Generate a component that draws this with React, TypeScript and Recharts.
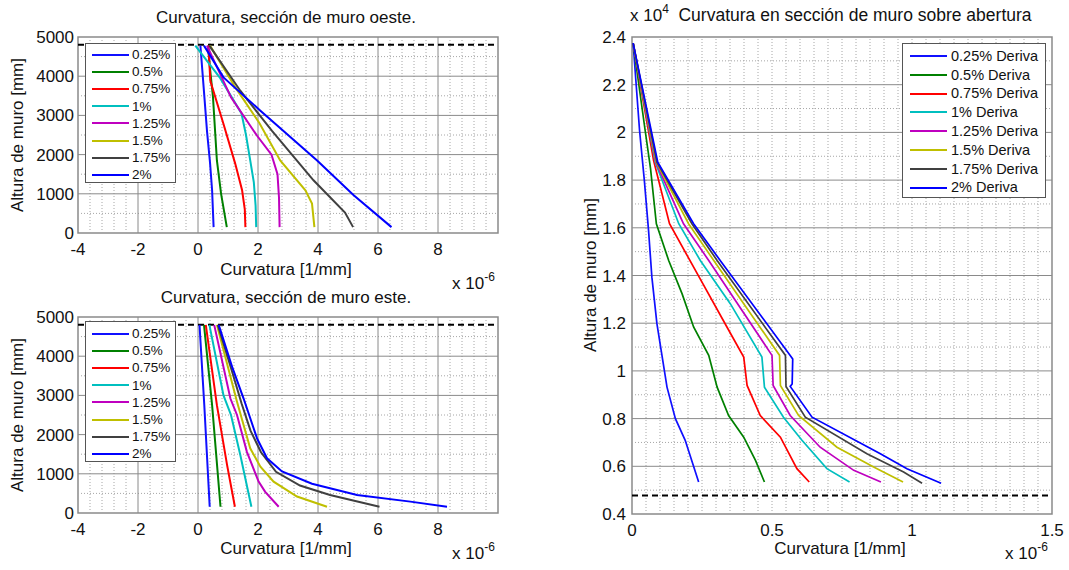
import React from 'react';
import { LineChart, Line, XAxis, YAxis, ReferenceLine, ReferenceArea } from 'recharts';

const FONT = '"Liberation Sans", Arial, Helvetica, sans-serif';

type Pt = [number, number];

// ---------- labels / colours ----------
const driftLabels = ['0.25%', '0.5%', '0.75%', '1%', '1.25%', '1.5%', '1.75%', '2%'];
const driftLabelsRight = driftLabels.map((d) => `${d} Deriva`);
const seriesColors = ['#1010FF', '#008000', '#FF0000', '#00BFBF', '#BF00BF', '#BFBF00', '#404040', '#0000FF'];

// ---------- ticks ----------
const leftXTicks = [-4, -2, 0, 2, 4, 6, 8];
const leftYTicks = [0, 1000, 2000, 3000, 4000, 5000];
const rightXTicks = [0, 0.5, 1, 1.5];
const rightYTicks = [0.4, 0.6, 0.8, 1, 1.2, 1.4, 1.6, 1.8, 2, 2.2, 2.4];

// ---------- West wall section: [curvature (x1e-6 1/mm), height (mm)] ----------
const oeste025: Pt[] = [[0.08, 4780], [0.2, 3600], [0.3, 2600], [0.4, 1800], [0.47, 1090], [0.52, 150]];
const oeste050: Pt[] = [[0.33, 4780], [0.4, 4200], [0.5, 3460], [0.63, 1850], [0.77, 1000], [0.96, 150]];
const oeste075: Pt[] = [[0.35, 4780], [0.41, 3880], [0.85, 2780], [1.24, 1770], [1.47, 1090], [1.56, 600], [1.58, 150]];
const oeste100: Pt[] = [[-0.09, 4780], [0.74, 3950], [1.45, 3050], [1.6, 2500], [1.72, 1950], [1.86, 1300], [1.92, 700], [1.94, 150]];
const oeste125: Pt[] = [[0.3, 4780], [1.1, 3460], [1.97, 2480], [2.45, 2000], [2.65, 1500], [2.7, 900], [2.72, 150]];
const oeste150: Pt[] = [[0.4, 4780], [1.24, 3720], [2.05, 2800], [2.74, 1850], [3.58, 1090], [3.8, 750], [3.88, 150]];
const oeste175: Pt[] = [[0.38, 4780], [1.41, 3630], [2.46, 2610], [3.85, 1345], [4.9, 520], [5.17, 150]];
const oeste200: Pt[] = [[0.2, 4780], [0.85, 3970], [2.08, 3120], [3.97, 1850], [5.19, 964], [6.45, 150]];

// ---------- East wall section ----------
const este025: Pt[] = [[0.05, 4800], [0.21, 2750], [0.39, 160]];
const este050: Pt[] = [[0.2, 4800], [0.47, 2750], [0.75, 160]];
const este075: Pt[] = [[0.26, 4800], [0.63, 2750], [0.97, 1220], [1.23, 160]];
const este100: Pt[] = [[0.38, 4800], [0.85, 3000], [1.1, 2500], [1.41, 1480], [1.78, 160]];
const este125: Pt[] = [[0.54, 4800], [1.08, 2920], [1.3, 2500], [1.63, 1560], [2.02, 800], [2.24, 540], [2.69, 160]];
const este150: Pt[] = [[0.63, 4800], [1.3, 2840], [1.74, 1650], [2.08, 1180], [2.52, 800], [3.3, 420], [4.3, 160]];
const este175: Pt[] = [[0.66, 4800], [1.1, 3700], [1.45, 2800], [1.75, 2100], [2.1, 1550], [2.6, 1050], [3.4, 700], [4.4, 460], [6.05, 160]];
const este200: Pt[] = [[0.69, 4800], [1.15, 3700], [1.52, 2920], [1.97, 1900], [2.3, 1395], [2.8, 1060], [3.8, 745], [5.3, 459], [7.08, 290], [8.3, 160]];

// ---------- Wall above opening: [curvature (x1e-6 1/mm), height (x1e4 mm)] ----------
const abert025: Pt[] = [[0.004, 2.374], [0.027, 2.008], [0.044, 1.8], [0.059, 1.59], [0.071, 1.393], [0.089, 1.198], [0.107, 1.065], [0.125, 0.932], [0.155, 0.8], [0.19, 0.709], [0.238, 0.534]];
const abert050: Pt[] = [[0.004, 2.374], [0.047, 2.008], [0.066, 1.85], [0.087, 1.617], [0.131, 1.463], [0.179, 1.323], [0.22, 1.184], [0.274, 1.065], [0.304, 0.932], [0.345, 0.813], [0.399, 0.722], [0.441, 0.625], [0.473, 0.534]];
const abert075: Pt[] = [[0.004, 2.374], [0.077, 1.883], [0.134, 1.617], [0.24, 1.393], [0.339, 1.184], [0.399, 1.058], [0.411, 0.939], [0.458, 0.813], [0.53, 0.722], [0.589, 0.59], [0.633, 0.534]];
const abert100: Pt[] = [[0.004, 2.374], [0.083, 1.875], [0.167, 1.617], [0.244, 1.463], [0.351, 1.282], [0.464, 1.058], [0.473, 0.932], [0.541, 0.806], [0.607, 0.709], [0.696, 0.59], [0.777, 0.534]];
const abert125: Pt[] = [[0.004, 2.374], [0.085, 1.875], [0.184, 1.617], [0.274, 1.463], [0.5, 1.065], [0.504, 0.939], [0.565, 0.813], [0.672, 0.68], [0.792, 0.583], [0.889, 0.534]];
const abert150: Pt[] = [[0.004, 2.374], [0.087, 1.875], [0.202, 1.617], [0.292, 1.463], [0.527, 1.065], [0.53, 0.939], [0.595, 0.813], [0.732, 0.68], [0.863, 0.597], [0.968, 0.534]];
const abert175: Pt[] = [[0.004, 2.374], [0.089, 1.875], [0.214, 1.617], [0.304, 1.463], [0.548, 1.065], [0.55, 0.935], [0.619, 0.806], [0.839, 0.653], [0.97, 0.576], [1.036, 0.529]];
const abert200: Pt[] = [[0.004, 2.374], [0.092, 1.875], [0.22, 1.617], [0.315, 1.463], [0.565, 1.065], [0.574, 1.05], [0.572, 0.945], [0.565, 0.935], [0.643, 0.806], [0.887, 0.653], [0.982, 0.59], [1.104, 0.529]];

const oesteSeries = [oeste025, oeste050, oeste075, oeste100, oeste125, oeste150, oeste175, oeste200];
const esteSeries = [este025, este050, este075, este100, este125, este150, este175, este200];
const abertSeries = [abert025, abert050, abert075, abert100, abert125, abert150, abert175, abert200];

// reference (dashed) level
const leftDashLevel = 4800;
const rightDashLevel = 0.478;

// ---------- grid positions ----------
const leftXMajor = [-2, 0, 2, 4, 6, 8];
const leftXMinor = Array.from({ length: 34 }, (_, i) => i + 1).filter((i) => i % 5 !== 0).map((i) => +(-4 + 0.4 * i).toFixed(2));
const leftYMajor = [1000, 2000, 3000, 4000];
const leftYMinor = [500, 1500, 2500, 3500, 4500];
const rightXMajor: number[] = [];
const rightXMinor = Array.from({ length: 29 }, (_, i) => +(0.05 * (i + 1)).toFixed(2));
const rightYMajor = [0.6, 0.8, 1, 1.2, 1.4, 1.6, 1.8, 2, 2.2];
const rightYMinor = [0.5, 0.7, 0.9, 1.1, 1.3, 1.5, 1.7, 1.9, 2.1, 2.3];

const toRows = (pts: Pt[]) => pts.map(([x, y]) => ({ x, y }));

type PanelProps = {
  width: number;
  height: number;
  margin: { top: number; right: number; bottom: number; left: number };
  yWidth: number;
  xDomain: [number, number];
  yDomain: [number, number];
  xTicks: number[];
  yTicks: number[];
  xMajor: number[];
  xMinor: number[];
  yMajor: number[];
  yMinor: number[];
  dashY: number;
  series: Pt[][];
  strokeWidth: number;
  yTickMargin: number;
};

function Panel(p: PanelProps) {
  const tickStyle = { fill: '#111', fontSize: 17, fontFamily: FONT };
  return (
    <LineChart width={p.width} height={p.height} margin={p.margin}>
      <XAxis
        type="number"
        dataKey="x"
        domain={p.xDomain}
        ticks={p.xTicks}
        interval={0}
        allowDataOverflow
        axisLine={false}
        tickLine={false}
        tickSize={0}
        tickMargin={10}
        height={30}
        tick={tickStyle}
      />
      <YAxis
        type="number"
        dataKey="y"
        domain={p.yDomain}
        ticks={p.yTicks}
        interval={0}
        allowDataOverflow
        axisLine={false}
        tickLine={false}
        tickSize={0}
        tickMargin={p.yTickMargin}
        width={p.yWidth}
        tick={tickStyle}
      />
      {p.xMinor.map((v) => (
        <ReferenceLine key={`xm${v}`} x={v} stroke="#a6a6a6" strokeWidth={1} strokeDasharray="1 2" />
      ))}
      {p.yMinor.map((v) => (
        <ReferenceLine key={`ym${v}`} y={v} stroke="#a6a6a6" strokeWidth={1} strokeDasharray="1 2" />
      ))}
      {p.xMajor.map((v) => (
        <ReferenceLine key={`xM${v}`} x={v} stroke="#8a8a8a" strokeWidth={1} />
      ))}
      {p.yMajor.map((v) => (
        <ReferenceLine key={`yM${v}`} y={v} stroke="#8a8a8a" strokeWidth={1} />
      ))}
      <ReferenceLine y={p.dashY} stroke="#000" strokeWidth={2} strokeDasharray="6 4" />
      {p.series.map((s, i) => (
        <Line
          key={`s${i}`}
          data={toRows(s)}
          dataKey="y"
          type="linear"
          stroke={seriesColors[i]}
          strokeWidth={p.strokeWidth}
          dot={false}
          activeDot={false}
          isAnimationActive={false}
        />
      ))}
      <ReferenceArea
        x1={p.xDomain[0]}
        x2={p.xDomain[1]}
        y1={p.yDomain[0]}
        y2={p.yDomain[1]}
        fill="none"
        fillOpacity={0}
        stroke="#8a8a8a"
        strokeWidth={1.5}
      />
    </LineChart>
  );
}

type LegendProps = {
  left: number;
  top: number;
  width: number;
  height: number;
  labels: string[];
  rowTop: number;
  rowStep: number;
  sampleLeft: number;
  sampleWidth: number;
  textLeft: number;
  fontSize: number;
};

function LegendBox(l: LegendProps) {
  return (
    <div
      style={{
        position: 'absolute',
        left: l.left,
        top: l.top,
        width: l.width,
        height: l.height,
        background: '#fff',
        border: '1px solid #555',
        boxSizing: 'border-box',
      }}
    >
      {l.labels.map((lab, i) => {
        const cy = l.rowTop + i * l.rowStep;
        return (
          <React.Fragment key={lab}>
            <div
              style={{
                position: 'absolute',
                left: l.sampleLeft,
                top: cy - 1,
                width: l.sampleWidth,
                height: 2,
                background: seriesColors[i],
              }}
            />
            <div
              style={{
                position: 'absolute',
                left: l.textLeft,
                top: cy - l.fontSize / 2 - 1,
                fontSize: l.fontSize,
                lineHeight: `${l.fontSize + 2}px`,
                color: '#111',
                whiteSpace: 'nowrap',
              }}
            >
              {lab}
            </div>
          </React.Fragment>
        );
      })}
    </div>
  );
}

function Txt({ cx, cy, text, rotate = 0, size = 17 }: { cx: number; cy: number; text: string; rotate?: number; size?: number }) {
  return (
    <div
      style={{
        position: 'absolute',
        left: cx,
        top: cy,
        transform: `translate(-50%, -50%) rotate(${rotate}deg)`,
        fontSize: size,
        lineHeight: `${size + 2}px`,
        whiteSpace: 'nowrap',
        color: '#111',
      }}
    >
      {text}
    </div>
  );
}

function Exp({ left, top, base, exp }: { left: number; top: number; base: string; exp: string }) {
  return (
    <div style={{ position: 'absolute', left, top, fontSize: 17, lineHeight: '17px', whiteSpace: 'nowrap', color: '#111' }}>
      {base}
      <span style={{ fontSize: 12, position: 'relative', top: -8 }}>{exp}</span>
    </div>
  );
}

export default function App() {
  const leftCommon = {
    width: 520,
    height: 300,
    margin: { top: 37, right: 22, bottom: 37, left: 0 },
    yWidth: 78,
    xDomain: [-4, 10] as [number, number],
    yDomain: [0, 5000] as [number, number],
    xTicks: leftXTicks,
    yTicks: leftYTicks,
    xMajor: leftXMajor,
    xMinor: leftXMinor,
    yMajor: leftYMajor,
    yMinor: leftYMinor,
    dashY: leftDashLevel,
    strokeWidth: 2,
    yTickMargin: 4,
  };
  return (
    <div style={{ position: 'absolute', left: 0, top: 0, width: 1069, height: 570, background: '#fff', fontFamily: FONT, overflow: 'hidden' }}>
      <div style={{ position: 'absolute', left: 0, top: 0 }}>
        <Panel {...leftCommon} series={oesteSeries} />
      </div>
      <div style={{ position: 'absolute', left: 0, top: 280 }}>
        <Panel {...leftCommon} series={esteSeries} />
      </div>
      <div style={{ position: 'absolute', left: 520, top: 0 }}>
        <Panel
          width={549}
          height={570}
          margin={{ top: 37, right: 17, bottom: 26, left: 0 }}
          yWidth={112}
          xDomain={[0, 1.5]}
          yDomain={[0.4, 2.4]}
          xTicks={rightXTicks}
          yTicks={rightYTicks}
          xMajor={rightXMajor}
          xMinor={rightXMinor}
          yMajor={rightYMajor}
          yMinor={rightYMinor}
          dashY={rightDashLevel}
          series={abertSeries}
          strokeWidth={1.7}
          yTickMargin={6}
        />
      </div>

      {/* legends */}
      <LegendBox left={85} top={43} width={91} height={140} labels={driftLabels} rowTop={11} rowStep={17.1} sampleLeft={6} sampleWidth={37} textLeft={46} fontSize={13.5} />
      <LegendBox left={85} top={321} width={91} height={141} labels={driftLabels} rowTop={12} rowStep={17.1} sampleLeft={6} sampleWidth={37} textLeft={46} fontSize={13.5} />
      <LegendBox left={902} top={43} width={144} height={155} labels={driftLabelsRight} rowTop={12} rowStep={18.8} sampleLeft={7} sampleWidth={37} textLeft={48} fontSize={14.5} />

      {/* titles and axis labels */}
      <Txt cx={286} cy={17} text="Curvatura, sección de muro oeste." />
      <Txt cx={286} cy={269} text="Curvatura [1/mm]" />
      <Txt cx={17} cy={135} text="Altura de muro [mm]" rotate={-90} />
      <Exp left={452} top={275} base="x 10" exp="-6" />

      <Txt cx={286} cy={297} text="Curvatura, sección de muro este." />
      <Txt cx={286} cy={548} text="Curvatura [1/mm]" />
      <Txt cx={17} cy={415} text="Altura de muro [mm]" rotate={-90} />
      <Exp left={452} top={545} base="x 10" exp="-6" />

      <Txt cx={855} cy={16} text="Curvatura en sección de muro sobre abertura" size={17.5} />
      <Txt cx={840} cy={548} text="Curvatura [1/mm]" />
      <Txt cx={590} cy={275} text="Altura de muro [mm]" rotate={-90} />
      <Exp left={1005} top={545} base="x 10" exp="-6" />
      <Exp left={630} top={7} base="x 10" exp="4" />
    </div>
  );
}
